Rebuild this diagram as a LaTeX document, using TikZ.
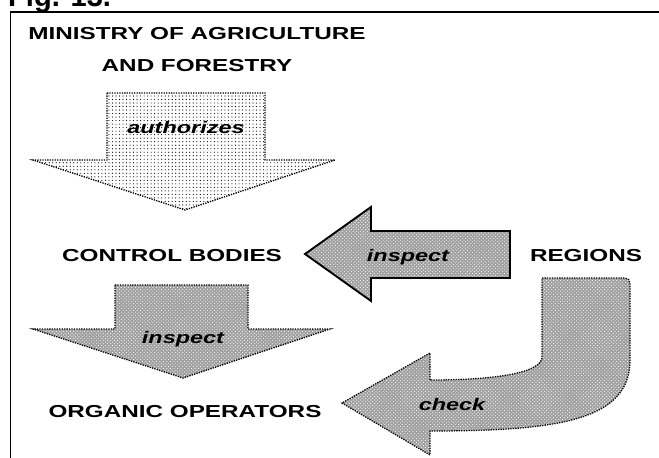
\documentclass[tikz,border=0pt]{standalone}
\usepackage{fontspec}
\setmainfont{Liberation Sans}
\newfontfamily\widefont[FakeStretch=1.4]{Liberation Sans}
\usetikzlibrary{patterns}

\begin{document}
\begin{tikzpicture}[x=0.3mm, y=-0.3mm,
    party/.style={font=\widefont\bfseries\fontsize{14.8}{26.5}\selectfont, align=center, anchor=base, inner sep=0pt},
    verb/.style={font=\widefont\bfseries\itshape\fontsize{14.3}{16}\selectfont, anchor=base, inner sep=0pt},
    outline/.style={draw, densely dotted, line width=1.1pt},
    lightarrow/.style={outline, preaction={fill=white}, pattern=dots},
    darkarrow/.style={outline, preaction={fill=gray!75}, pattern=crosshatch dots, pattern color=white}]
    \useasboundingbox (0,0) rectangle (659,458);
    \node[anchor=base west, inner sep=0pt, font=\bfseries\fontsize{24.8}{25}\selectfont] (fig) at (8,6) {Fig. 13.};
    \draw[line width=1.7pt] (10.5,458) -- (10.5,12) -- (659,12);
%    the four parties
    \node[party] (ministry) at (197,71) {MINISTRY OF AGRICULTURE\\AND FORESTRY};
    \node[party] (control) at (172,261) {CONTROL BODIES};
    \node[party] (regions) at (586,261) {REGIONS};
    \node[party] (organic) at (185,417) {ORGANIC OPERATORS};
%    block arrows
    \draw[lightarrow] (107,93) -- (265,93) -- (265,160) -- (335,160) -- (185,210) -- (33,160) -- (107,160) -- cycle;
    \draw[darkarrow] (115,285) -- (248,285) -- (248,329) -- (330,329) -- (183,378) -- (33,329) -- (115,329) -- cycle;
    \draw[darkarrow, solid, line width=1.6pt] (510,231) -- (510,278) -- (371,278) -- (371,301) -- (305,254) -- (371,207) -- (371,231) -- cycle;
    \draw[darkarrow] (542,278) -- (625,278) to[out=0, in=90] (630,283) -- (630,360)
        .. controls (630,420) and (560,431) .. (430,431) -- (430,455) -- (342,403) -- (430,353) -- (430,380)
        .. controls (500,380) and (542,372) .. (542,357) -- cycle;
%    arrow labels
    \node[verb] (authorizes) at (186,133) {authorizes};
    \node[verb] (inspectcb) at (408,261) {inspect};
    \node[verb] (inspectop) at (183,343) {inspect};
    \node[verb] (check) at (452,410) {check};
\end{tikzpicture}
\end{document}
